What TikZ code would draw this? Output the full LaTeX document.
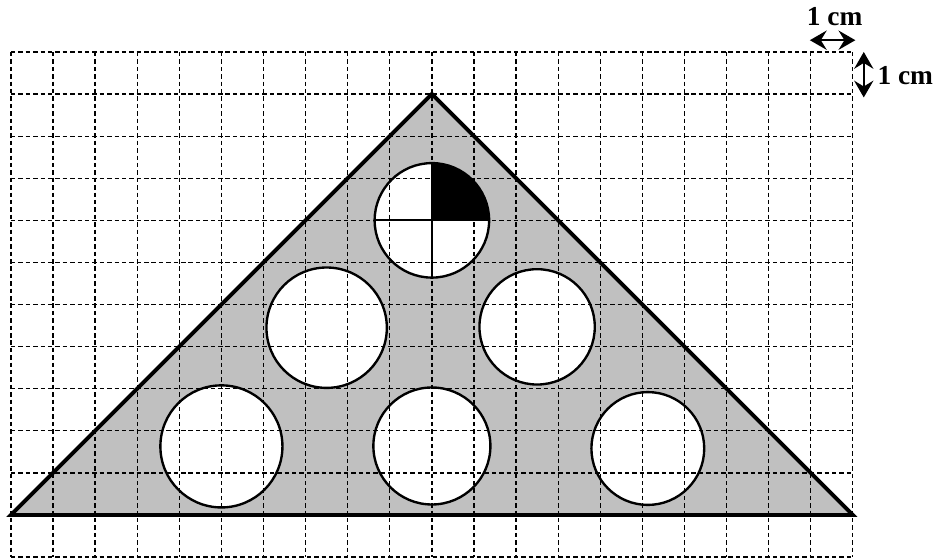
\documentclass[tikz,border=0pt]{standalone}
\usepackage{fontspec}
\setmainfont{Liberation Serif}
\usetikzlibrary{arrows.meta}
\definecolor{plategray}{RGB}{192,192,192}
\tikzset{
  gridline/.style={black,line width=0.9pt,dash pattern=on 3pt off 2pt},
  plate/.style={draw=black,line width=2.6pt,line join=miter,fill=plategray},
  hole/.style={draw=black,line width=1.6pt},
  quad/.style={draw=black,line width=1.4pt},
  dimarrow/.style={line width=1pt,{Stealth[length=4mm,width=4.6mm,inset=1.4mm]}-{Stealth[length=4mm,width=4.6mm,inset=1.4mm]}},
  dimlabel/.style={font=\fontsize{18.5}{20}\selectfont\bfseries,inner sep=0pt}
}
\begin{document}
\begin{tikzpicture}
\useasboundingbox (-0.26,-1.04) rectangle (22.0,12.235);
% plate fill
\coordinate (A) at (0,0);
\coordinate (B) at (20,0);
\coordinate (C) at (10,10);
\fill[plategray] (A) -- (B) -- (C) -- cycle;
% holes
\coordinate (h1) at (10,7.0);
\coordinate (h2) at (7.5,4.45);
\coordinate (h3) at (12.5,4.47);
\coordinate (h4) at (5,1.63);
\coordinate (h5) at (10,1.64);
\coordinate (h6) at (15.13,1.58);
\fill[white] (h1) circle (1.36);
\fill[white] (h2) circle (1.43);
\fill[white] (h3) circle (1.37);
\fill[white] (h4) circle (1.45);
\fill[white] (h5) circle (1.39);
\fill[white] (h6) circle (1.34);
\fill[black] (h1) -- ++(1.36,0) arc (0:90:1.36) -- cycle;
% grid
\foreach \gx in {0,...,20} \draw[gridline] (\gx,11) -- (\gx,-1);
\foreach \gy in {-1,...,11} \draw[gridline] (0,\gy) -- (20,\gy);
% outlines
\draw[plate,fill=none] (A) -- (B) -- (C) -- cycle;
\draw[hole] (h1) circle (1.36);
\draw[hole] (h2) circle (1.43);
\draw[hole] (h3) circle (1.37);
\draw[hole] (h4) circle (1.45);
\draw[hole] (h5) circle (1.39);
\draw[hole] (h6) circle (1.34);
\draw[quad] ([xshift=-1.36cm]h1) -- ([xshift=1.36cm]h1);
\draw[quad] ([yshift=-1.36cm]h1) -- ([yshift=1.36cm]h1);
% dimension marks
\coordinate (hx1) at (18.98,11.28);
\coordinate (hx2) at (20.06,11.28);
\draw[dimarrow] (hx1) -- (hx2);
\node[dimlabel] (hl) at (19.57,11.83) {1 cm};
\coordinate (vy1) at (20.26,11.0);
\coordinate (vy2) at (20.26,9.92);
\draw[dimarrow] (vy1) -- (vy2);
\node[dimlabel,anchor=west] (vl) at (20.58,10.43) {1 cm};
\end{tikzpicture}
\end{document}
